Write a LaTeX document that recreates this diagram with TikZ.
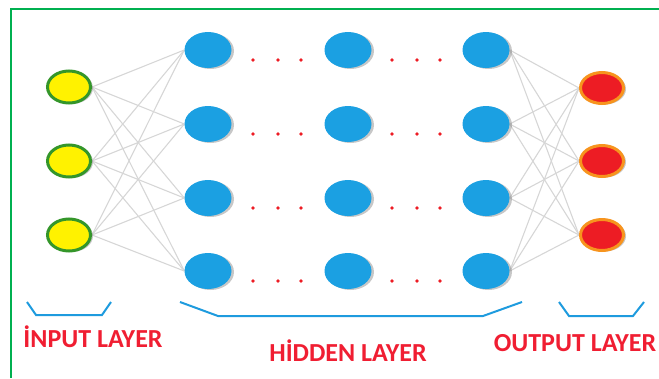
\documentclass[tikz,border=0pt]{standalone}
\usepackage{fontspec}
\setmainfont{Carlito}
\usetikzlibrary{shapes.geometric,shadows,backgrounds}
\definecolor{framegreen}{RGB}{0,176,80}
\definecolor{nodeblue}{RGB}{27,160,226}
\definecolor{inyellow}{RGB}{255,242,0}
\definecolor{ingreen}{RGB}{52,150,42}
\definecolor{outred}{RGB}{237,28,36}
\definecolor{outorange}{RGB}{247,148,30}
\definecolor{linkgray}{RGB}{214,214,214}
\definecolor{bracketblue}{RGB}{30,155,222}
\definecolor{labelred}{RGB}{240,30,50}
\tikzset{
  neuron/.style={ellipse, inner sep=0pt, drop shadow={shadow xshift=2.5pt, shadow yshift=-1pt, opacity=0.4, fill=black!55}},
  innode/.style={neuron, fill=inyellow, draw=ingreen, line width=3pt, minimum width=43pt, minimum height=32pt},
  hidnode/.style={neuron, fill=nodeblue, minimum width=47pt, minimum height=36pt},
  outnode/.style={neuron, fill=outred, draw=outorange, line width=3pt, minimum width=43pt, minimum height=31pt},
  link/.style={draw=linkgray, line width=1.1pt},
  bracket/.style={draw=bracketblue, line width=2pt},
  laylabel/.style={anchor=base, text=labelred, font=\fontsize{26}{30}\selectfont\bfseries, inner sep=0pt},
  reddot/.style={fill=outred}
}
\begin{document}
\begin{tikzpicture}[x=1pt,y=-1pt]
\useasboundingbox (0,0) rectangle (659,378);
\draw[framegreen, line width=2pt] (11,378) -- (11,9) -- (659,9);
% input nodes
\node[innode] (i1) at (69,87) {};
\node[innode] (i2) at (69,161) {};
\node[innode] (i3) at (69,235) {};
% hidden nodes
\foreach \c/\x in {1/208,2/348,3/486}{
  \foreach \r/\y in {1/50,2/124,3/198,4/271}{
    \node[hidnode] (h\c\r) at (\x,\y) {};
  }
}
% output nodes
\node[outnode] (o1) at (602,88) {};
\node[outnode] (o2) at (602,161) {};
\node[outnode] (o3) at (602,235) {};
% links
\begin{scope}[on background layer]
\foreach \k in {1,2,3}{
  \foreach \r in {1,2,3,4}{
    \draw[link] (i\k.east) -- (h1\r.west);
    \draw[link] (h3\r.east) -- (o\k.west);
  }
}
\end{scope}
% dots
\foreach \y in {60,134,208,281}{
  \foreach \x in {253,278,301,392,417,440}{
    \fill[reddot] (\x,\y) circle (1.9);
  }
}
% brackets
\draw[bracket] (27,302) -- (36,315) -- (102,315) -- (111,302);
\draw[bracket] (180,302) -- (218,316) -- (483,316) -- (522,302);
\draw[bracket] (559,302) -- (569,316) -- (633,316) -- (644,302);
% labels
\node[laylabel] (lin) at (93,347) {İNPUT LAYER};
\node[laylabel] (lhid) at (348,361) {HİDDEN LAYER};
\node[laylabel] (lout) at (575,351) {OUTPUT LAYER};
\end{tikzpicture}
\end{document}
